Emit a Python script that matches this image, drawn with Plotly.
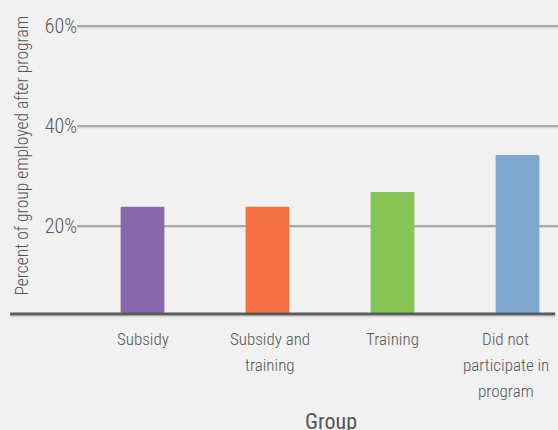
import plotly.graph_objects as go

groups = ["Subsidy", "Subsidy and<br>training", "Training", "Did not<br>participate in<br>program"]
employed_pct = [23.8, 23.8, 26.8, 34.2]
bar_colors = ["#8868ad", "#f37045", "#86c456", "#7fa6cd"]
y_ticks = [20, 40, 60]
y_tick_labels = ["20%", "40%", "60%"]

FONT = "Roboto Condensed, DejaVu Sans Condensed, sans-serif"
TEXT = "#555555"
label_shift = [0, 2, 0, -12]  # px nudge so the last label stays inside the figure

fig = go.Figure()
fig.add_trace(
    go.Bar(
        x=groups,
        y=employed_pct,
        width=0.35,
        marker=dict(color=bar_colors, line=dict(width=0)),
        hovertemplate="%{y:.1f}%<extra></extra>",
    )
)

# category labels, one annotation per line for the wider line spacing
annotations = []
for g, shift in zip(groups, label_shift):
    for j, line in enumerate(g.split("<br>")):
        annotations.append(dict(
            text=line, x=g, xref="x", yref="paper", y=0,
            xshift=shift, yshift=-(25 + 26 * j),
            showarrow=False, xanchor="center", yanchor="middle",
            font=dict(size=17, color=TEXT, weight=300),
        ))
annotations += [
    dict(
        text="Percent of group employed after program",
        xref="paper", yref="paper", x=-0.115, y=0.52,
        textangle=-90, showarrow=False,
        xanchor="center", yanchor="middle",
        font=dict(size=17.5, color=TEXT, weight=300),
    ),
    dict(
        text="Group",
        xref="paper", yref="paper", x=0.529, y=-0.352,
        showarrow=False, xanchor="center", yanchor="middle",
        font=dict(size=22, color=TEXT),
    ),
]

# soft highlight under each gridline and the dark baseline
shapes = [
    dict(type="line", xref="paper", yref="y", x0=0, x1=1,
         ysizemode="pixel", yanchor=v, y0=-1.5, y1=-1.5,
         line=dict(color="#d8d8d8", width=1.5), layer="below")
    for v in y_ticks
]
shapes.append(dict(type="line", xref="paper", yref="paper", x0=-0.139, x1=0.994,
                   ysizemode="pixel", yanchor=0, y0=-2.5, y1=-2.5,
                   line=dict(color="#d5d5d5", width=1.5)))
shapes.append(dict(type="line", xref="paper", yref="paper", x0=-0.139, x1=0.994,
                   y0=0, y1=0, line=dict(color="#5a5a5a", width=3)))

fig.update_layout(
    width=558,
    height=430,
    margin=dict(l=77, r=0, t=10, b=116),
    paper_bgcolor="#f1f1f1",
    plot_bgcolor="#f1f1f1",
    showlegend=False,
    font=dict(family=FONT, color=TEXT, size=18),
    xaxis=dict(
        range=[-0.524, 3.324],
        showgrid=False,
        showline=False,
        zeroline=False,
        showticklabels=False,
        ticks="",
    ),
    yaxis=dict(
        range=[2.3, 63.3],
        tickvals=y_ticks,
        ticktext=y_tick_labels,
        showgrid=True,
        gridcolor="#a9a9a9",
        gridwidth=1.5,
        zeroline=False,
        showline=False,
        ticks="",
        ticklabelstandoff=-1,
        tickfont=dict(size=20, color=TEXT, weight=300),
    ),
    shapes=shapes,
    annotations=annotations,
)

fig.write_html("out.html", config={"displayModeBar": False},
               post_script="document.body.style.margin='0';")
